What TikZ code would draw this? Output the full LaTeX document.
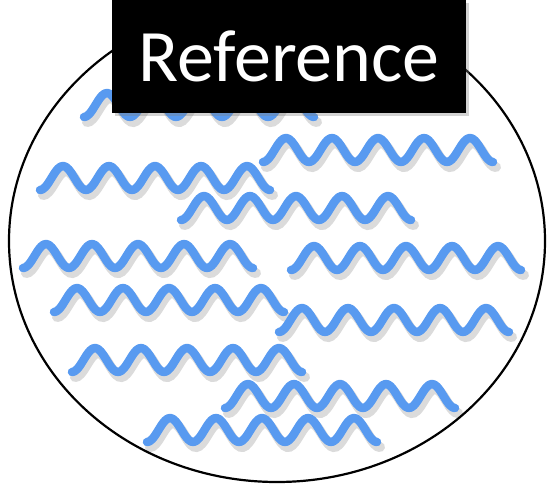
\documentclass[tikz,border=0pt]{standalone}
\usepackage{fontspec}
\setmainfont{Carlito}
\usetikzlibrary{shadows}
\definecolor{waveblue}{RGB}{88,154,240}

\begin{document}
\begin{tikzpicture}[x=1pt, y=-1pt]
	\tikzstyle{wave} = [draw=waveblue, line width=8.5pt, line cap=round, line join=round]
	\tikzstyle{waveshadow} = [draw=black, opacity=.14, line width=10pt, line cap=round]
	\tikzstyle{titlebox} = [fill=black, text=white, minimum width=354pt, minimum height=113pt, inner sep=0pt, font=\fontsize{74}{80}\selectfont, drop shadow={opacity=.35, shadow xshift=3pt, shadow yshift=-3pt}]
	\useasboundingbox (0,0) rectangle (547,487);
	\draw[line width=2.2pt] (277,241) ellipse [x radius=268, y radius=241];
	\foreach \sx/\sy in {84/117, 263/162, 40/190, 181/220, 23/268, 291/270, 54/312, 279/332, 72/372, 225/408, 147/442}
	{
		\draw[waveshadow] plot[domain=0:230, samples=90, smooth] ({\sx+\x+3}, {\sy-12+12*cos(\x/46*360)+5});
		\draw[wave] plot[domain=0:230, samples=90, smooth] ({\sx+\x}, {\sy-12+12*cos(\x/46*360)});
	}
	\node[titlebox] (title) at (289,56.5) {Reference};
\end{tikzpicture}
\end{document}
